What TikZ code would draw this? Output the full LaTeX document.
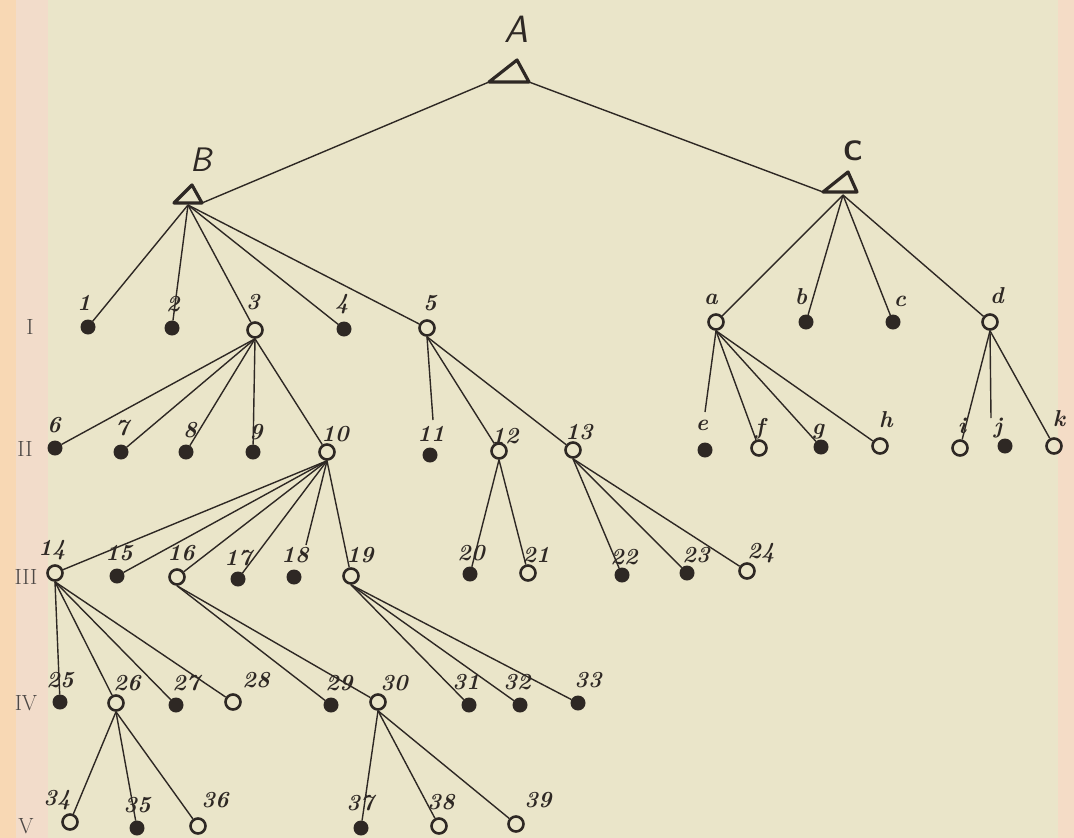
\documentclass[tikz,border=0pt]{standalone}
\usetikzlibrary{calc}
\definecolor{paper}{HTML}{EAE5C9}
\definecolor{stripL}{HTML}{F8D8B4}
\definecolor{stripP}{HTML}{F2DCCA}
\definecolor{stripR}{HTML}{F4DCC6}
\definecolor{ink}{HTML}{2E2824}
\tikzset{
 fdot/.style={circle,fill=ink,draw=none,minimum size=15pt,inner sep=0pt,outer sep=0pt},
 odot/.style={circle,draw=ink,line width=2.6pt,fill=none,minimum size=15pt,inner sep=0pt},
 lab/.style={font=\fontsize{23}{23}\selectfont\bfseries\itshape,text=ink,inner sep=0pt},
 lvl/.style={font=\fontsize{22}{22}\selectfont\rmfamily,text=ink!85,inner sep=0pt},
 edge/.style={draw=ink,line width=1.4pt},
 tri/.style={draw=ink,line width=3.2pt,line join=round},
 big/.style={font=\fontsize{38}{38}\selectfont\sffamily\itshape,text=ink,inner sep=0pt},
}
\newcommand\mkF[4]{\node[fdot] (#1) at (#2) {}; \node[lab] (t#1) at (#3) {#4};}
\newcommand\mkO[4]{\node[odot] (#1) at (#2) {}; \node[lab] (t#1) at (#3) {#4};}
\begin{document}
\begin{tikzpicture}[x=1pt,y=-1pt]
\fill[paper] (0,0) rectangle (1074,838);
\fill[stripL] (0,0) rectangle (16,838);
\fill[stripP] (16,0) rectangle (48,838);
\fill[stripR] (1058,0) rectangle (1074,838);
\useasboundingbox (0,0) rectangle (1074,838);

% root triangles
\coordinate (Al) at (489,82); \coordinate (At) at (517,60); \coordinate (Ar) at (529,82);
\draw[tri] (Al) -- (At) -- (Ar) -- cycle;
\node[big] (tA) at (516,29) {A};
\coordinate (Bl) at (174,203); \coordinate (Bt) at (192,185); \coordinate (Br) at (202,203);
\coordinate (Bb) at (188,205);
\draw[tri] (Bl) -- (Bt) -- (Br) -- cycle;
\node[big,font=\fontsize{34}{34}\selectfont\sffamily\itshape] (tB) at (201,160) {B};
\coordinate (Cl) at (823,192); \coordinate (Ct) at (848,172); \coordinate (Cr) at (857,192);
\coordinate (Cb) at (843,195);
\draw[tri] (Cl) -- (Ct) -- (Cr) -- cycle;
\node[big,font=\fontsize{28}{28}\selectfont\sffamily\bfseries] (tC) at (853,151) {C};

% level numerals
\node[lvl] (rI) at (30,327) {I};
\node[lvl] (rII) at (25,449) {II};
\node[lvl] (rIII) at (26,577) {III};
\node[lvl] (rIV) at (26,703) {IV};
\node[lvl] (rV) at (26,826) {V};

% level I
\mkF{n1}{88,327}{84,303}{1}
\mkF{n2}{172,328}{173,304}{2}
\mkO{n3}{255,330}{253,302}{3}
\mkF{n4}{344,329}{342,304}{4}
\mkO{n5}{427,328}{430,303}{5}
\mkO{na}{716,322}{711,299}{a}
\mkF{nb}{806,322}{801,297}{b}
\mkF{nc}{893,322}{900,301}{c}
\mkO{nd}{990,322}{997,296}{d}
% level II
\mkF{n6}{55,448}{54,425}{6}
\mkF{n7}{121,452}{122,428}{7}
\mkF{n8}{186,452}{190,430}{8}
\mkF{n9}{253,452}{256,432}{9}
\mkO{n10}{327,452}{335,434}{10}
\mkF{n11}{430,455}{431,434}{11}
\mkO{n12}{499,451}{505,436}{12}
\mkO{n13}{573,450}{579,432}{13}
\mkF{ne}{705,450}{702,425}{e}
\mkO{nf}{759,448}{760,429}{f}
\mkF{ng}{821,447}{818,432}{g}
\mkO{nh}{880,446}{886,420}{h}
\mkO{ni}{960,448}{962,426}{i}
\mkF{nj}{1005,446}{998,428}{j}
\mkO{nk}{1054,446}{1059,419}{k}
% level III
\mkO{n14}{55,573}{52,550}{14}
\mkF{n15}{117,576}{119,553}{15}
\mkO{n16}{177,577}{181,553}{16}
\mkF{n17}{238,579}{238,558}{17}
\mkF{n18}{294,577}{295,555}{18}
\mkO{n19}{351,576}{360,555}{19}
\mkF{n20}{470,574}{471,553}{20}
\mkO{n21}{528,573}{536,555}{21}
\mkF{n22}{622,575}{624,557}{22}
\mkF{n23}{687,573}{696,555}{23}
\mkO{n24}{747,571}{761,553}{24}
% level IV
\mkF{n25}{60,702}{60,680}{25}
\mkO{n26}{116,703}{127,683}{26}
\mkF{n27}{176,705}{186,683}{27}
\mkO{n28}{233,702}{256,680}{28}
\mkF{n29}{331,705}{339,683}{29}
\mkO{n30}{378,702}{394,683}{30}
\mkF{n31}{469,705}{466,682}{31}
\mkF{n32}{520,705}{517,682}{32}
\mkF{n33}{578,703}{588,680}{33}
% level V
\mkO{n34}{70,822}{57,800}{34}
\mkF{n35}{137,828}{137,805}{35}
\mkO{n36}{198,826}{215,800}{36}
\mkF{n37}{361,828}{360,803}{37}
\mkO{n38}{439,826}{441,802}{38}
\mkO{n39}{516,824}{538,800}{39}

% free line ends
\coordinate (e11) at (433,420);
\coordinate (eE) at (705,412);
\coordinate (eJ) at (991,418);
\coordinate (e18) at (306,545);

% connectors
\draw[edge] (Al) -- (Br);
\draw[edge] (Ar) -- (Cl);
\foreach \c in {n1,n2,n3,n4,n5} \draw[edge] (Bb) -- (\c);
\foreach \c in {na,nb,nc,nd} \draw[edge] (Cb) -- (\c);
\foreach \c in {n6,n7,n8,n9,n10} \draw[edge] (n3.south) -- (\c);
\foreach \c in {e11,n12,n13} \draw[edge] (n5.south) -- (\c);
\foreach \c in {eE,nf,ng,nh} \draw[edge] (na.south) -- (\c);
\foreach \c in {ni,eJ,nk} \draw[edge] (nd.south) -- (\c);
\foreach \c in {n14,n15,n16,n17,e18,n19} \draw[edge] (n10.south) -- (\c);
\foreach \c in {n20,n21} \draw[edge] (n12.south) -- (\c);
\foreach \c in {n22,n23,n24} \draw[edge] (n13.south) -- (\c);
\foreach \c in {n25,n26,n27,n28} \draw[edge] (n14.south) -- (\c);
\foreach \c in {n29,n30} \draw[edge] (n16.south) -- (\c);
\foreach \c in {n31,n32,n33} \draw[edge] (n19.south) -- (\c);
\foreach \c in {n34,n35,n36} \draw[edge] (n26.south) -- (\c);
\foreach \c in {n37,n38,n39} \draw[edge] (n30.south) -- (\c);
\end{tikzpicture}
\end{document}
